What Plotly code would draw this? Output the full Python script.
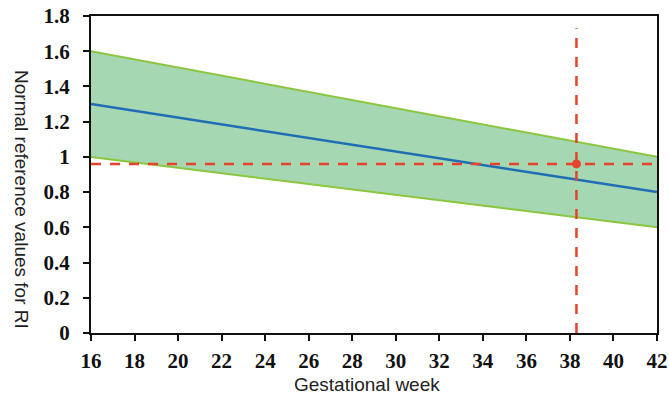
import plotly.graph_objects as go

weeks = [16, 42]
upper = [1.6, 1.0]
lower = [1.0, 0.6]
mean = [1.3, 0.8]
case_week = 38.3
case_ri = 0.96
x_ticks = list(range(16, 43, 2))
y_ticks = [0, 0.2, 0.4, 0.6, 0.8, 1.0, 1.2, 1.4, 1.6, 1.8]

GREEN_LINE = "#8cc63f"
FILL = "#a4d7b2"
BLUE = "#1f6db5"
RED = "#e5432b"

fig = go.Figure()
fig.add_trace(go.Scatter(x=weeks, y=lower, mode="lines",
                         line=dict(color=GREEN_LINE, width=2), showlegend=False))
fig.add_trace(go.Scatter(x=weeks, y=upper, mode="lines", fill="tonexty",
                         fillcolor=FILL,
                         line=dict(color=GREEN_LINE, width=2), showlegend=False))
fig.add_trace(go.Scatter(x=weeks, y=mean, mode="lines",
                         line=dict(color=BLUE, width=2.5), showlegend=False))
fig.add_trace(go.Scatter(x=[weeks[0], weeks[-1]], y=[case_ri, case_ri], mode="lines",
                         line=dict(color=RED, width=2.5, dash="10px,9px"), showlegend=False))
fig.add_trace(go.Scatter(x=[case_week, case_week], y=[0, 1.73], mode="lines",
                         line=dict(color=RED, width=2.5, dash="10px,9px"), showlegend=False))
fig.add_trace(go.Scatter(x=[case_week], y=[case_ri], mode="markers",
                         marker=dict(color=RED, size=9), showlegend=False))

tickfont = dict(family="Liberation Serif", size=21, color="#111", weight="bold")
fig.update_xaxes(range=[16, 42], tickvals=x_ticks, ticks="outside", ticklen=6,
                 tickwidth=2, tickcolor="#111", showline=True, linecolor="#111",
                 linewidth=2, mirror=True, showgrid=False, zeroline=False,
                 tickfont=tickfont, ticklabelstandoff=2, automargin=False,
                 ticklabeloverflow="allow")
fig.update_yaxes(range=[0, 1.8], tickvals=y_ticks, ticks="outside", ticklen=6,
                 tickwidth=2, tickcolor="#111", showline=True, linecolor="#111",
                 linewidth=2, mirror=True, showgrid=False, zeroline=False,
                 tickfont=tickfont, ticklabelstandoff=9, automargin=False,
                 ticklabeloverflow="allow")

fig.update_layout(
    width=669, height=396,
    margin=dict(l=91, r=12, t=16, b=63),
    plot_bgcolor="white", paper_bgcolor="white",
    font=dict(family="Liberation Sans"),
    hovermode=False,
    annotations=[
        dict(text="Gestational week", xref="paper", yref="paper",
             x=0.488, y=-0.161, yanchor="middle", xanchor="center", showarrow=False,
             font=dict(family="Liberation Sans", size=19, color="#222")),
        dict(text="Normal reference values for RI", xref="paper", yref="paper",
             x=-0.124, y=0.42, xanchor="center", yanchor="middle", textangle=90,
             showarrow=False, font=dict(family="Liberation Sans", size=19, color="#222")),
    ],
)
fig.write_html("out.html",
               config={"displayModeBar": False, "staticPlot": True},
               post_script="document.body.style.margin='0';document.body.style.overflow='hidden';")
